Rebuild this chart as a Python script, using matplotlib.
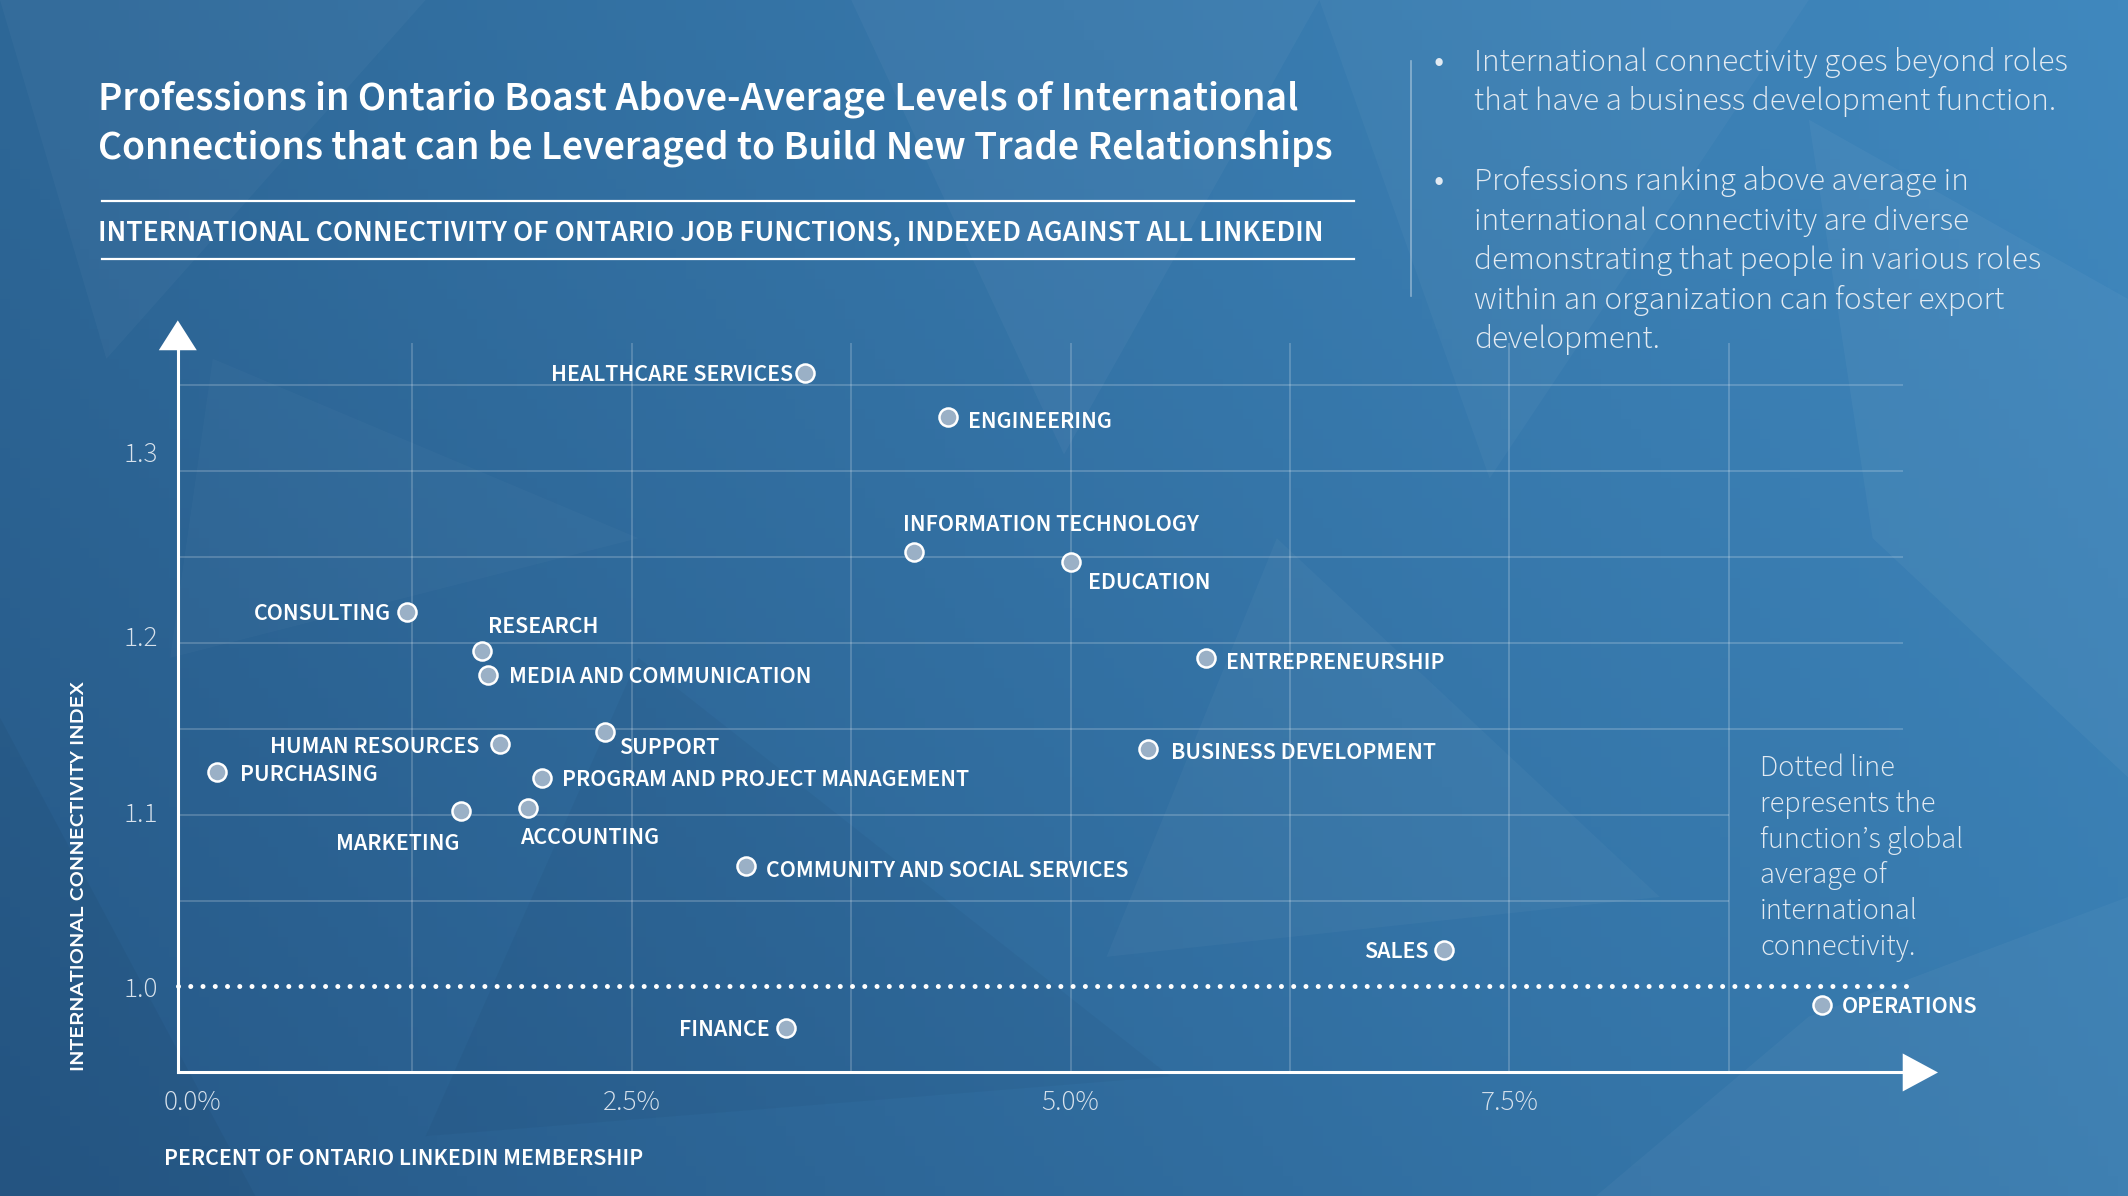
import numpy as np
import matplotlib
matplotlib.use('Agg')
import matplotlib.pyplot as plt
from matplotlib.patches import Polygon
import matplotlib.transforms as mtransforms
from matplotlib import font_manager as fm

# ---------------- data ----------------
functions = [
    'HEALTHCARE SERVICES', 'ENGINEERING', 'INFORMATION TECHNOLOGY', 'EDUCATION',
    'ENTREPRENEURSHIP', 'BUSINESS DEVELOPMENT', 'CONSULTING', 'RESEARCH',
    'MEDIA AND COMMUNICATION', 'HUMAN RESOURCES', 'SUPPORT', 'PURCHASING',
    'PROGRAM AND PROJECT MANAGEMENT', 'MARKETING', 'ACCOUNTING',
    'COMMUNITY AND SOCIAL SERVICES', 'SALES', 'FINANCE', 'OPERATIONS',
]
membership_pct = [3.49, 4.30, 4.11, 5.00, 5.77, 5.44, 1.22, 1.65, 1.68, 1.75,
                  2.35, 0.14, 1.99, 1.53, 1.91, 3.15, 7.13, 3.38, 9.28]
connectivity_index = [1.357, 1.331, 1.253, 1.247, 1.191, 1.138, 1.218, 1.195,
                      1.181, 1.141, 1.148, 1.125, 1.121, 1.102, 1.104, 1.070,
                      1.021, 0.976, 0.989]
global_average = 1.0
x_ticks = [0.0, 2.5, 5.0, 7.5]
x_tick_labels = ['0.0%', '2.5%', '5.0%', '7.5%']
y_ticks = [1.0, 1.1, 1.2, 1.3]
y_tick_labels = ['1.0', '1.1', '1.2', '1.3']

title_lines = ['Professions in Ontario Boast Above-Average Levels of International',
               'Connections that can be Leveraged to Build New Trade Relationships']
subtitle = 'INTERNATIONAL CONNECTIVITY OF ONTARIO JOB FUNCTIONS, INDEXED AGAINST ALL LINKEDIN'
bullet1 = ['International connectivity goes beyond roles',
           'that have a business development function.']
bullet2 = ['Professions ranking above average in',
           'international connectivity are diverse',
           'demonstrating that people in various roles',
           'within an organization can foster export',
           'development.']
note_lines = ['Dotted line', 'represents the', 'function\u2019s global',
              'average of', 'international', 'connectivity.']
x_label = 'PERCENT OF ONTARIO LINKEDIN MEMBERSHIP'
y_label = 'INTERNATIONAL CONNECTIVITY INDEX'

# label placement (style): offset in px of reference layout, alignment
label_offsets = [(-9, 0, 'right'), (15, -2, 'left'), (-8, 21, 'left'), (13, -14, 'left'),
                 (15, -2, 'left'), (17, -1, 'left'), (-12, 0, 'right'), (4, 19, 'left'),
                 (16, 0, 'left'), (-15, -1, 'right'), (10, -10, 'left'), (17, -1, 'left'),
                 (15, 0, 'left'), (-1, -23, 'right'), (-6, -21, 'left'), (15, -2, 'left'),
                 (-12, 0, 'right'), (-12, 0, 'right'), (15, 0, 'left')]


# ---------------- fonts: static instances of variable fonts ----------------
def make_instance(family, wght, newname):
    try:
        from fontTools.ttLib import TTFont
        from fontTools.varLib import instancer
        path = fm.findfont(fm.FontProperties(family=family, style='normal', weight='normal'),
                           fallback_to_default=False)
        tt = TTFont(path)
        if 'fvar' in tt:
            tt = instancer.instantiateVariableFont(tt, {'wght': wght})
        tt['OS/2'].usWeightClass = wght
        for rec in tt['name'].names:
            if rec.nameID in (1, 4, 16, 21):
                rec.string = newname
            elif rec.nameID == 6:
                rec.string = newname.replace(' ', '')
            elif rec.nameID in (2, 17, 22):
                rec.string = 'Regular'
        out = newname.replace(' ', '') + '.ttf'
        tt.save(out)
        fm.fontManager.addfont(out)
        return [newname, 'DejaVu Sans']
    except Exception:
        return None

SEMI = make_instance('Source Sans 3', 600, 'SrcSans Semi') or ['Source Sans 3', 'DejaVu Sans']
LIGHT = make_instance('Source Sans 3', 300, 'SrcSans Light') or ['Source Sans 3', 'DejaVu Sans']
MONT = make_instance('Montserrat', 600, 'Mont Semi') or ['DejaVu Sans']

# ---------------- figure ----------------
W, H = 1568.0, 881.0   # layout units
def P(x, y):
    return (x / W, 1 - y / H)

PT = 0.977  # layout px -> points

fig = plt.figure(figsize=(21.28, 11.96), dpi=100)

# background gradient
bg = fig.add_axes([0, 0, 1, 1], zorder=-10)
bg.set_axis_off()
ny, nx = 120, 214
yy, xx = np.mgrid[0:1:ny * 1j, 0:1:nx * 1j]
tl = np.array([46, 104, 152]) / 255
tr = np.array([64, 136, 190]) / 255
bl = np.array([38, 88, 135]) / 255
br = np.array([56, 124, 176]) / 255
img = (tl[None, None, :] * ((1 - xx) * (1 - yy))[..., None] +
       tr[None, None, :] * (xx * (1 - yy))[..., None] +
       bl[None, None, :] * ((1 - xx) * yy)[..., None] +
       br[None, None, :] * (xx * yy)[..., None])
bg.imshow(img, extent=[0, 1, 0, 1], aspect='auto', origin='upper')
bg.set_xlim(0, 1); bg.set_ylim(0, 1)
facets = [
    ([(0.00, 1.00), (0.20, 1.00), (0.05, 0.70)], 'white', 0.03),
    ([(0.40, 1.00), (0.62, 1.00), (0.50, 0.62)], 'white', 0.035),
    ([(0.62, 1.00), (0.85, 1.00), (0.70, 0.60)], 'white', 0.03),
    ([(0.85, 0.90), (1.00, 0.75), (1.00, 0.35), (0.88, 0.55)], 'white', 0.04),
    ([(0.00, 0.40), (0.12, 0.00), (0.00, 0.00)], 'black', 0.04),
    ([(0.30, 0.45), (0.55, 0.10), (0.20, 0.05)], 'black', 0.03),
    ([(0.60, 0.55), (0.78, 0.25), (0.52, 0.20)], 'white', 0.03),
    ([(0.75, 0.00), (1.00, 0.00), (1.00, 0.25), (0.85, 0.15)], 'white', 0.035),
    ([(0.10, 0.70), (0.30, 0.55), (0.08, 0.45)], 'white', 0.025),
]
for pts, c, a in facets:
    bg.add_patch(Polygon(pts, closed=True, facecolor=c, alpha=a, edgecolor='none'))

# ---------------- main axes ----------------
x0, x1, y0, y1 = 131, 1402, 253, 790
ax = fig.add_axes([x0 / W, 1 - y1 / H, (x1 - x0) / W, (y1 - y0) / H])
ax.set_facecolor('none')
ax.set_xlim(-0.085, 9.74)
ax.set_ylim(0.950, 1.374)

grid_kw = dict(color='white', alpha=0.22, lw=1.2, zorder=1)
for gx in np.arange(1.25, 9.0, 1.25):
    ax.axvline(gx, **grid_kw)
for gy in np.arange(1.05, 1.36, 0.05):
    if gy < 1.12:
        ax.hlines(gy, -0.085, 8.75, **grid_kw)
    else:
        ax.axhline(gy, **grid_kw)

ax.plot([-0.085, 9.78], [global_average, global_average], color='white', lw=3.6,
        linestyle=(0, (0.001, 2.45)), dash_capstyle='round', clip_on=False, zorder=3)

ax.plot(membership_pct, connectivity_index, linestyle='none', marker='o',
        markersize=13, markerfacecolor='#9ab0c6', markeredgecolor='white',
        markeredgewidth=1.8, zorder=5, clip_on=False)

for name, xv, yv, (dx, dy, ha) in zip(functions, membership_pct, connectivity_index, label_offsets):
    ax.annotate(name, (xv, yv), xytext=(dx * PT, (dy - 1.5) * PT), textcoords='offset points',
                ha=ha, va='center', color='white', fontsize=17.3, fontweight='semibold',
                family=SEMI, zorder=6)

for s in ['top', 'right']:
    ax.spines[s].set_visible(False)
for s in ['left', 'bottom']:
    ax.spines[s].set_color('white')
    ax.spines[s].set_linewidth(2.2)
    ax.spines[s].set_zorder(4)

ax.set_xticks(x_ticks)
ax.set_xticklabels(x_tick_labels)
ax.set_yticks(y_ticks)
ax.set_yticklabels(y_tick_labels)
ax.tick_params(length=0, labelcolor='#d8e2ec', labelsize=21)
ax.tick_params(axis='x', pad=12)
ax.tick_params(axis='y', pad=14)
for lab in ax.get_xticklabels() + ax.get_yticklabels():
    lab.set_family(LIGHT)
    lab.set_fontweight('light')
nudges = [0, 2, 5, 14]
for lab, n in zip(ax.get_yticklabels(), nudges):
    lab.set_transform(lab.get_transform() +
                      mtransforms.ScaledTranslation(0, n * PT / 72, fig.dpi_scale_trans))

# arrow heads
fig.patches.append(Polygon([P(117, 258), P(145, 258), P(131, 236)], closed=True,
                           facecolor='white', edgecolor='none', transform=fig.transFigure))
fig.patches.append(Polygon([P(1402, 776), P(1402, 804), P(1428, 790)], closed=True,
                           facecolor='white', edgecolor='none', transform=fig.transFigure))
fig.add_artist(plt.Line2D([x0 / W, x0 / W], [1 - y0 / H, 1 - 258 / H], color='white',
                          lw=2.2, transform=fig.transFigure))

# axis labels
fig.text(*P(121, 853.5), x_label, ha='left', va='center', color='white', fontsize=17.3,
         fontweight='semibold', family=SEMI)
fig.text(*P(58, 645), y_label, ha='center', va='center', rotation=90, color='white',
         fontsize=13.9, fontweight='semibold', family=MONT)

# ---------------- titles ----------------
for i, line in enumerate(title_lines):
    fig.text(*P(72, 73 + 36 * i), line, ha='left', va='center', color='white',
             fontsize=30.2, fontweight='semibold', family=SEMI)
fig.add_artist(plt.Line2D([75 / W, 998 / W], [1 - 148 / H] * 2, color='white', lw=1.6,
                          transform=fig.transFigure))
fig.add_artist(plt.Line2D([75 / W, 998 / W], [1 - 191 / H] * 2, color='white', lw=1.6,
                          transform=fig.transFigure))
fig.text(*P(72, 172), subtitle, ha='left', va='center', color='white', fontsize=21.6,
         fontweight='semibold', family=SEMI)

# right panel
fig.add_artist(plt.Line2D([1040 / W] * 2, [1 - 45 / H, 1 - 218 / H], color='white',
                          alpha=0.4, lw=1.2, transform=fig.transFigure))
body_kw = dict(ha='left', va='center', color='#e2eaf2', fontsize=23.8, fontweight='light',
               family=LIGHT)
fig.text(*P(1060, 46), '\u2022', ha='center', va='center', color='#e2eaf2', fontsize=26,
         family=LIGHT)
fig.text(*P(1060, 134), '\u2022', ha='center', va='center', color='#e2eaf2', fontsize=26,
         family=LIGHT)
for i, line in enumerate(bullet1):
    fig.text(*P(1086, 46 + 29 * i), line, **body_kw)
for i, line in enumerate(bullet2):
    fig.text(*P(1086, 134 + 29 * i), line, **body_kw)

note_kw = dict(ha='left', va='center', color='#e2eaf2', fontsize=21.7, fontweight='light',
               family=LIGHT)
for i, line in enumerate(note_lines):
    fig.text(*P(1297, 566 + 26.4 * i), line, **note_kw)

fig.savefig('out.png', dpi=100)
